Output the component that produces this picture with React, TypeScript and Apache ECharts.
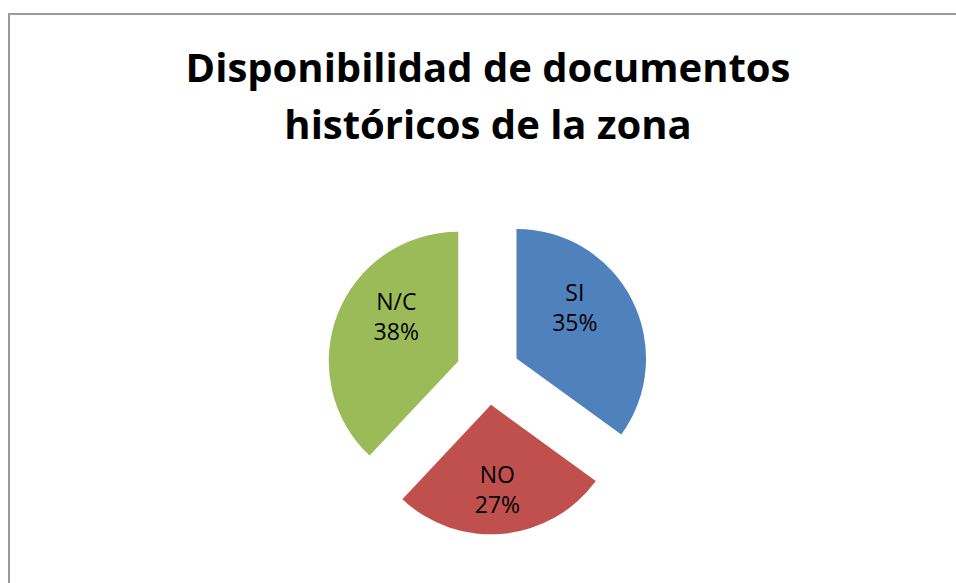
import React, { useEffect, useRef } from "react";
import * as echarts from "echarts";

const categories = ["SI", "NO", "N/C"];
const values = [35, 27, 38];
const colors = ["#4F81BD", "#C0504D", "#9BBB59"];
const labelShift = [
  [-2, -21],
  [0, 17],
  [1, -20],
];
const titleText = "Disponibilidad de documentos\nhistóricos de la zona";

export default function App() {
  const ref = useRef<HTMLDivElement>(null);
  useEffect(() => {
    if (!ref.current) return;
    const chart = echarts.init(ref.current, null, { renderer: "svg" });
    chart.setOption({
      animation: false,
      backgroundColor: "#ffffff",
      title: {
        text: titleText,
        left: 488,
        top: 38,
        padding: 0,
        textAlign: "center",
        textStyle: {
          fontFamily: "Open Sans",
          fontWeight: "bold",
          fontSize: 40,
          lineHeight: 57,
          color: "#000000",
        },
      },
      graphic: [
        {
          type: "line",
          shape: { x1: 9, y1: 14, x2: 960, y2: 14 },
          style: { stroke: "#9a9a9a", lineWidth: 2 },
          silent: true,
        },
        {
          type: "line",
          shape: { x1: 9, y1: 13, x2: 9, y2: 590 },
          style: { stroke: "#9a9a9a", lineWidth: 2 },
          silent: true,
        },
      ],
      series: [
        {
          type: "pie",
          center: [488, 373],
          radius: 129.5,
          startAngle: 90,
          clockwise: true,
          selectedMode: "multiple",
          selectedOffset: 32,
          emphasis: { disabled: true },
          label: {
            show: true,
            position: "inside",
            formatter: "{b}\n{c}%",
            fontFamily: "Open Sans",
            fontSize: 23,
            lineHeight: 30,
            color: "#000000",
          },
          labelLine: { show: false },
          labelLayout: (params: any) => ({
            dx: labelShift[params.dataIndex][0],
            dy: labelShift[params.dataIndex][1],
          }),
          data: categories.map((name, i) => ({
            name,
            value: values[i],
            selected: true,
            itemStyle: { color: colors[i] },
            select: { itemStyle: { color: colors[i] } },
          })),
        },
      ],
    });
    return () => chart.dispose();
  }, []);
  return (
    <div
      ref={ref}
      style={{ position: "absolute", left: 0, top: 0, width: 956, height: 583 }}
    />
  );
}
